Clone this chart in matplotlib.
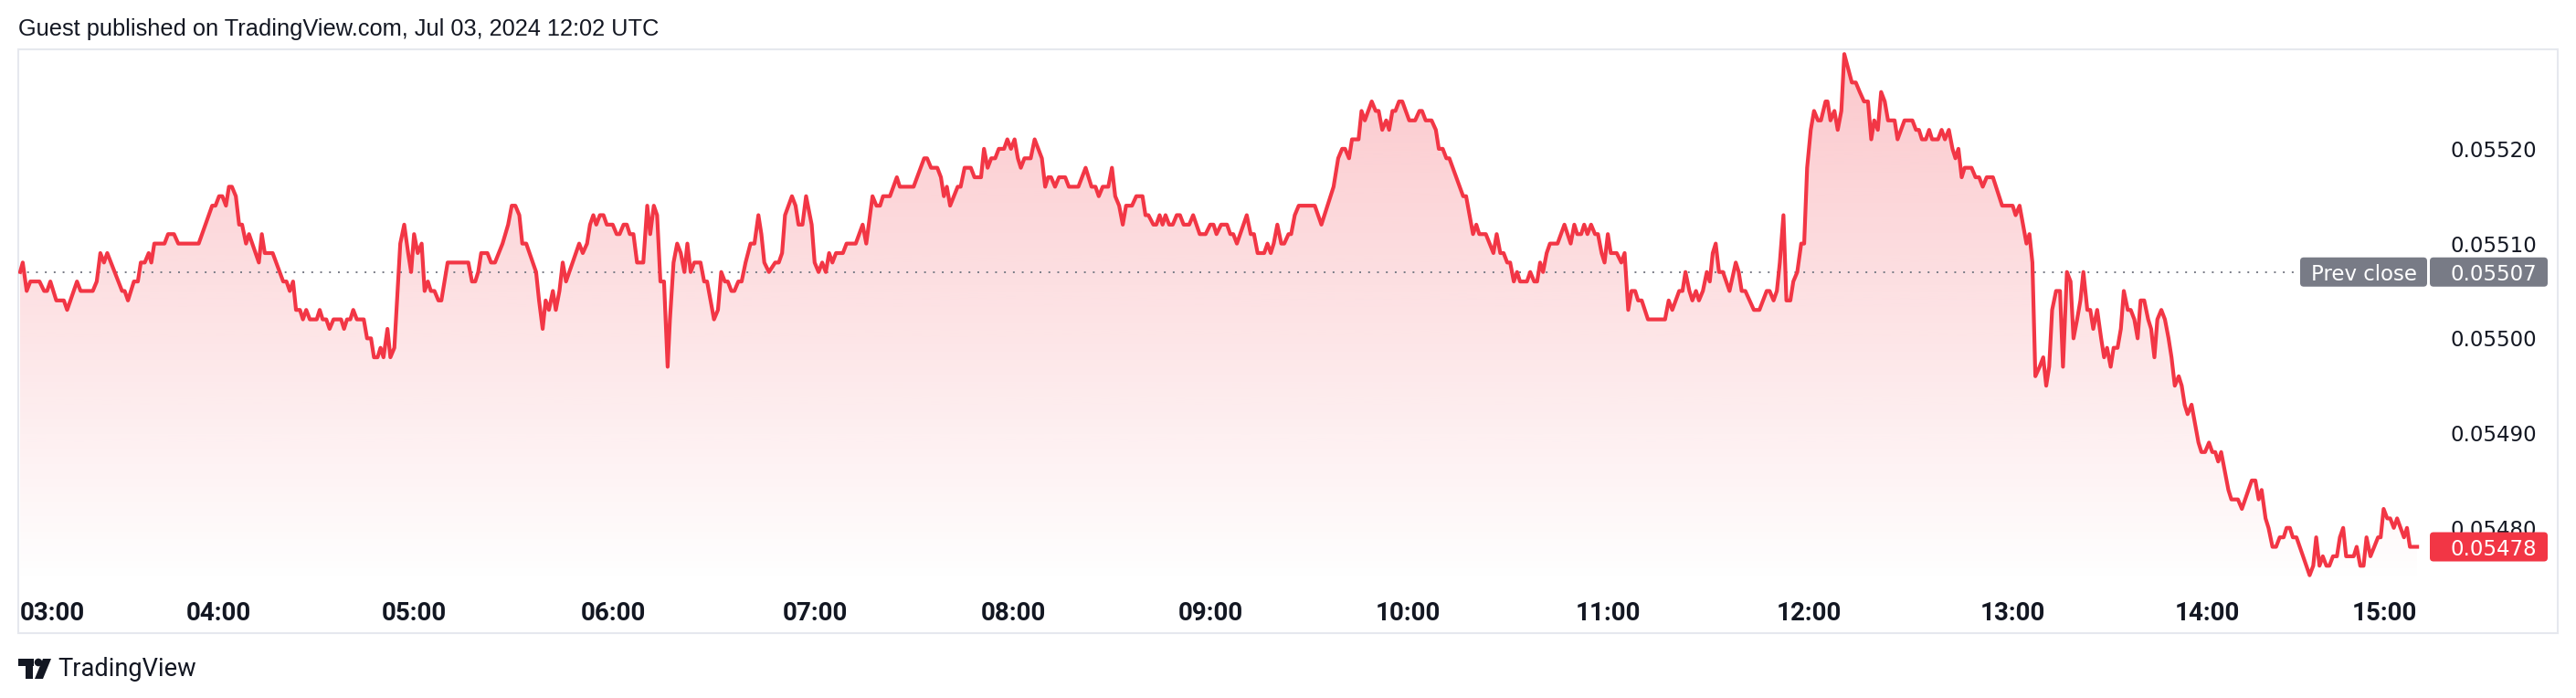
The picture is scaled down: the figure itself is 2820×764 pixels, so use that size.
import numpy as np
import matplotlib
matplotlib.use('Agg')
import matplotlib.pyplot as plt
from matplotlib.patches import FancyBboxPatch, Rectangle, PathPatch, Polygon, Circle
from matplotlib.transforms import IdentityTransform, blended_transform_factory

# --- data (bar index since 03:00, price) ---
bar_pos = [
    0.0, 0.8, 2.0, 3.1, 5.9, 7.3, 8.2, 9.2, 11.0, 13.3,
    14.3, 17.3, 18.4, 22.1, 23.3, 24.4, 25.5, 26.5, 31.0, 31.8,
    32.8, 34.6, 35.8, 36.7, 37.9, 39.1, 39.9, 40.8, 43.9, 45.0,
    46.8, 48.1, 54.3, 58.4, 59.4, 60.5, 61.5, 62.6, 63.5, 64.4,
    65.6, 66.6, 67.5, 68.7, 69.6, 72.6, 73.5, 74.4, 76.8, 80.0,
    81.0, 82.0, 83.0, 83.9, 85.1, 86.0, 87.0, 88.1, 90.2, 91.1,
    92.0, 93.1, 94.1, 95.3, 97.6, 98.5, 99.4, 100.4, 101.3, 102.4,
    104.5, 105.5, 106.7, 107.6, 108.7, 109.6, 110.5, 111.7, 112.6, 113.8,
    115.6, 116.8, 118.0, 118.9, 119.8, 120.9, 122.1, 123.0, 124.0, 124.9,
    126.0, 127.2, 128.1, 130.0, 136.3, 137.4, 138.4, 139.3, 140.2, 142.1,
    143.2, 144.4, 146.7, 148.4, 149.5, 150.6, 151.8, 152.7, 153.9, 156.9,
    157.8, 158.9, 159.8, 160.8, 162.0, 162.9, 164.0, 165.0, 166.0, 170.0,
    171.1, 172.4, 173.3, 174.3, 175.2, 176.3, 177.4, 178.4, 180.2, 181.4,
    182.3, 183.5, 184.5, 185.4, 186.5, 187.6, 189.5, 190.7, 191.6, 192.7,
    193.7, 194.7, 195.8, 196.9, 197.6, 198.7, 199.8, 200.9, 202.0, 202.9,
    203.9, 205.0, 206.9, 208.0, 208.9, 211.0, 212.2, 213.2, 214.3, 215.2,
    216.3, 217.2, 218.4, 219.4, 220.6, 222.1, 223.3, 224.5, 225.4, 226.3,
    227.7, 229.6, 230.7, 231.7, 232.6, 234.7, 235.8, 236.7, 237.9, 239.0,
    240.7, 241.6, 242.8, 243.9, 245.0, 246.0, 247.0, 248.1, 250.2, 251.3,
    254.1, 256.2, 257.3, 259.2, 260.4, 261.5, 262.4, 264.5, 266.6, 267.5,
    271.7, 274.9, 275.8, 277.0, 278.9, 280.0, 280.9, 281.8, 282.8, 285.1,
    286.0, 287.2, 289.1, 290.2, 292.2, 293.1, 294.2, 295.3, 296.5, 297.6,
    299.2, 300.2, 301.3, 302.4, 303.4, 304.3, 305.4, 307.3, 308.5, 310.7,
    311.7, 312.6, 313.5, 314.7, 315.9, 317.8, 318.9, 321.8, 324.0, 325.8,
    327.0, 328.0, 329.2, 330.9, 332.0, 333.0, 334.2, 335.3, 336.3, 338.1,
    339.4, 341.3, 342.2, 343.1, 344.6, 345.5, 346.5, 347.4, 348.3, 349.4,
    350.5, 351.7, 352.7, 353.8, 355.5, 356.7, 358.7, 360.5, 361.9, 362.9,
    363.8, 365.2, 367.0, 368.0, 368.9, 370.0, 373.0, 374.2, 375.2, 376.3,
    378.3, 379.3, 380.3, 381.2, 382.3, 383.5, 384.4, 385.7, 386.5, 387.6,
    388.8, 393.7, 395.7, 399.4, 400.8, 402.0, 402.9, 404.1, 405.0, 407.0,
    407.9, 408.9, 411.0, 412.2, 413.1, 414.2, 415.4, 416.3, 417.3, 418.2,
    419.3, 420.3, 422.4, 424.2, 425.5, 426.3, 427.4, 429.2, 430.5, 431.4,
    432.6, 433.7, 434.6, 438.8, 439.7, 441.8, 442.8, 443.7, 445.7, 448.0,
    449.0, 450.1, 451.1, 452.2, 453.1, 454.2, 455.2, 456.1, 458.2, 459.2,
    460.4, 461.3, 462.2, 463.1, 464.2, 465.2, 467.5, 469.6, 471.5, 472.6,
    473.5, 474.7, 475.6, 476.6, 477.7, 478.9, 479.8, 480.9, 481.8, 482.8,
    483.7, 485.5, 486.9, 487.9, 489.0, 490.0, 491.1, 492.0, 493.1, 495.0,
    500.2, 501.3, 502.4, 504.5, 505.5, 506.4, 507.6, 508.5, 509.6, 510.5,
    511.7, 512.9, 513.8, 514.7, 515.6, 516.6, 517.8, 519.8, 521.7, 522.6,
    523.5, 524.6, 527.2, 528.9, 531.1, 532.0, 533.2, 534.2, 535.1, 536.2,
    537.1, 538.3, 539.2, 540.4, 541.6, 542.5, 543.4, 544.5, 545.5, 546.7,
    547.6, 549.0, 549.6, 550.5, 551.7, 552.7, 553.8, 554.7, 557.0, 558.2,
    559.4, 560.7, 561.9, 562.9, 563.8, 564.9, 565.9, 567.0, 568.0, 570.0,
    570.9, 573.0, 575.4, 576.5, 577.4, 578.3, 579.5, 580.5, 581.4, 583.2,
    584.3, 585.3, 586.5, 587.6, 588.5, 589.4, 590.4, 591.3, 593.4, 594.6,
    595.7, 596.8, 598.0, 599.9, 602.7, 605.9, 606.8, 608.0, 610.1, 611.0,
    611.9, 612.8, 614.1, 615.2, 616.1, 617.0, 617.9, 619.1, 620.3, 621.2,
    622.4, 623.5, 624.4, 625.5, 626.5, 627.4, 628.6, 629.5, 630.4, 631.6,
    632.8, 633.7, 634.6, 635.7, 636.6, 637.8, 638.8, 639.7, 640.9, 641.8,
    642.9, 643.9, 644.8, 645.9, 647.1, 648.0, 649.0, 649.9, 651.1, 652.2,
    653.3, 654.2, 655.2, 656.4, 657.3, 658.2, 659.1, 660.3, 662.4, 663.3,
    664.4, 665.6, 666.6, 667.5, 668.4, 669.3, 671.5, 672.4, 674.4, 675.6,
    678.6, 679.7, 680.7, 681.6, 682.8, 683.7, 684.9, 686.0, 687.1, 688.3,
    689.2, 690.2, 691.1, 692.2, 696.2, 697.3, 698.2, 699.2, 700.2, 701.3,
    702.2, 703.3, 704.5, 705.4, 706.4, 707.3, 709.6, 710.5, 711.6, 712.6,
    713.5, 714.7, 717.0, 717.8, 718.7, 719.8, 720.7, 721.8, 722.8, 724.9,
    725.8, 726.7, 728.9,
]

prices = [
    0.05507, 0.05508, 0.05505, 0.05506, 0.05506, 0.05505, 0.05505, 0.05506, 0.05504, 0.05504,
    0.05503, 0.05506, 0.05505, 0.05505, 0.05506, 0.05509, 0.05508, 0.05509, 0.05505, 0.05505,
    0.05504, 0.05506, 0.05506, 0.05508, 0.05508, 0.05509, 0.05508, 0.05510, 0.05510, 0.05511,
    0.05511, 0.05510, 0.05510, 0.05514, 0.05514, 0.05515, 0.05515, 0.05514, 0.05516, 0.05516,
    0.05515, 0.05512, 0.05512, 0.05510, 0.05511, 0.05508, 0.05511, 0.05509, 0.05509, 0.05506,
    0.05506, 0.05505, 0.05506, 0.05503, 0.05503, 0.05502, 0.05503, 0.05502, 0.05502, 0.05503,
    0.05502, 0.05502, 0.05501, 0.05502, 0.05502, 0.05501, 0.05502, 0.05502, 0.05503, 0.05502,
    0.05502, 0.05500, 0.05500, 0.05498, 0.05498, 0.05499, 0.05498, 0.05501, 0.05498, 0.05499,
    0.05510, 0.05512, 0.05509, 0.05507, 0.05511, 0.05509, 0.05510, 0.05505, 0.05506, 0.05505,
    0.05505, 0.05504, 0.05504, 0.05508, 0.05508, 0.05506, 0.05506, 0.05507, 0.05509, 0.05509,
    0.05508, 0.05508, 0.05510, 0.05512, 0.05514, 0.05514, 0.05513, 0.05510, 0.05510, 0.05507,
    0.05504, 0.05501, 0.05504, 0.05503, 0.05505, 0.05503, 0.05505, 0.05508, 0.05506, 0.05510,
    0.05509, 0.05510, 0.05512, 0.05513, 0.05512, 0.05513, 0.05513, 0.05512, 0.05512, 0.05511,
    0.05511, 0.05512, 0.05512, 0.05511, 0.05511, 0.05508, 0.05508, 0.05514, 0.05511, 0.05514,
    0.05513, 0.05506, 0.05506, 0.05497, 0.05502, 0.05508, 0.05510, 0.05509, 0.05507, 0.05510,
    0.05507, 0.05508, 0.05508, 0.05506, 0.05506, 0.05502, 0.05503, 0.05507, 0.05506, 0.05506,
    0.05505, 0.05505, 0.05506, 0.05506, 0.05508, 0.05510, 0.05510, 0.05513, 0.05511, 0.05508,
    0.05507, 0.05508, 0.05508, 0.05509, 0.05513, 0.05515, 0.05514, 0.05512, 0.05512, 0.05515,
    0.05512, 0.05508, 0.05507, 0.05508, 0.05507, 0.05509, 0.05508, 0.05509, 0.05509, 0.05510,
    0.05510, 0.05512, 0.05510, 0.05515, 0.05514, 0.05514, 0.05515, 0.05515, 0.05517, 0.05516,
    0.05516, 0.05519, 0.05519, 0.05518, 0.05518, 0.05517, 0.05515, 0.05516, 0.05514, 0.05516,
    0.05516, 0.05518, 0.05518, 0.05517, 0.05517, 0.05520, 0.05518, 0.05519, 0.05519, 0.05520,
    0.05520, 0.05521, 0.05520, 0.05521, 0.05519, 0.05518, 0.05519, 0.05519, 0.05521, 0.05519,
    0.05516, 0.05517, 0.05517, 0.05516, 0.05517, 0.05517, 0.05516, 0.05516, 0.05518, 0.05516,
    0.05516, 0.05515, 0.05516, 0.05516, 0.05518, 0.05515, 0.05514, 0.05512, 0.05514, 0.05514,
    0.05515, 0.05515, 0.05513, 0.05513, 0.05512, 0.05512, 0.05513, 0.05512, 0.05513, 0.05512,
    0.05512, 0.05513, 0.05513, 0.05512, 0.05512, 0.05513, 0.05511, 0.05511, 0.05512, 0.05512,
    0.05511, 0.05512, 0.05512, 0.05511, 0.05511, 0.05510, 0.05513, 0.05511, 0.05511, 0.05509,
    0.05509, 0.05510, 0.05509, 0.05510, 0.05512, 0.05510, 0.05510, 0.05511, 0.05511, 0.05513,
    0.05514, 0.05514, 0.05512, 0.05516, 0.05519, 0.05520, 0.05520, 0.05519, 0.05521, 0.05521,
    0.05524, 0.05523, 0.05525, 0.05524, 0.05524, 0.05522, 0.05523, 0.05522, 0.05524, 0.05524,
    0.05525, 0.05525, 0.05523, 0.05523, 0.05524, 0.05524, 0.05523, 0.05523, 0.05522, 0.05520,
    0.05520, 0.05519, 0.05519, 0.05515, 0.05515, 0.05511, 0.05512, 0.05511, 0.05511, 0.05509,
    0.05511, 0.05509, 0.05509, 0.05508, 0.05508, 0.05506, 0.05507, 0.05506, 0.05506, 0.05507,
    0.05506, 0.05506, 0.05508, 0.05507, 0.05509, 0.05510, 0.05510, 0.05512, 0.05510, 0.05512,
    0.05511, 0.05511, 0.05512, 0.05511, 0.05512, 0.05511, 0.05511, 0.05509, 0.05508, 0.05511,
    0.05509, 0.05509, 0.05508, 0.05509, 0.05503, 0.05505, 0.05505, 0.05504, 0.05504, 0.05502,
    0.05502, 0.05504, 0.05503, 0.05505, 0.05505, 0.05507, 0.05505, 0.05504, 0.05505, 0.05504,
    0.05505, 0.05507, 0.05506, 0.05509, 0.05510, 0.05507, 0.05507, 0.05505, 0.05508, 0.05507,
    0.05505, 0.05505, 0.05503, 0.05503, 0.05505, 0.05505, 0.05504, 0.05505, 0.05508, 0.05513,
    0.05504, 0.05504, 0.05506, 0.05507, 0.05510, 0.05510, 0.05518, 0.05522, 0.05524, 0.05523,
    0.05523, 0.05525, 0.05525, 0.05523, 0.05524, 0.05522, 0.05524, 0.05530, 0.05527, 0.05527,
    0.05526, 0.05525, 0.05525, 0.05521, 0.05523, 0.05522, 0.05526, 0.05525, 0.05523, 0.05523,
    0.05521, 0.05523, 0.05523, 0.05522, 0.05522, 0.05521, 0.05521, 0.05522, 0.05521, 0.05521,
    0.05522, 0.05521, 0.05522, 0.05520, 0.05519, 0.05520, 0.05517, 0.05518, 0.05518, 0.05517,
    0.05517, 0.05516, 0.05517, 0.05517, 0.05514, 0.05514, 0.05513, 0.05514, 0.05510, 0.05511,
    0.05508, 0.05496, 0.05497, 0.05498, 0.05495, 0.05497, 0.05503, 0.05505, 0.05505, 0.05497,
    0.05507, 0.05506, 0.05500, 0.05502, 0.05504, 0.05507, 0.05503, 0.05503, 0.05501, 0.05503,
    0.05500, 0.05498, 0.05499, 0.05497, 0.05499, 0.05499, 0.05501, 0.05505, 0.05503, 0.05503,
    0.05502, 0.05500, 0.05504, 0.05504, 0.05502, 0.05501, 0.05498, 0.05502, 0.05503, 0.05502,
    0.05500, 0.05498, 0.05495, 0.05496, 0.05495, 0.05493, 0.05492, 0.05493, 0.05489, 0.05488,
    0.05488, 0.05489, 0.05488, 0.05488, 0.05487, 0.05488, 0.05484, 0.05483, 0.05483, 0.05482,
    0.05485, 0.05485, 0.05483, 0.05484, 0.05481, 0.05480, 0.05478, 0.05478, 0.05479, 0.05479,
    0.05480, 0.05480, 0.05479, 0.05479, 0.05475, 0.05476, 0.05479, 0.05476, 0.05477, 0.05476,
    0.05476, 0.05477, 0.05477, 0.05479, 0.05480, 0.05477, 0.05477, 0.05478, 0.05476, 0.05476,
    0.05479, 0.05477, 0.05479, 0.05479, 0.05482, 0.05481, 0.05481, 0.05480, 0.05481, 0.05479,
    0.05480, 0.05478, 0.05478,
]

hour_labels = ['03:00', '04:00', '05:00', '06:00', '07:00', '08:00', '09:00',
               '10:00', '11:00', '12:00', '13:00', '14:00', '15:00']
hour_bars = [0, 60.3, 119.7, 180.3, 241.7, 302, 362, 422, 483, 544, 606, 665, 719]
price_ticks = [0.05480, 0.05490, 0.05500, 0.05510, 0.05520]
prev_close = 0.05507
last_price = prices[-1]

header = 'Guest published on TradingView.com, Jul 03, 2024 12:02 UTC'

RED = '#F23645'
GREY = '#787B86'
TXT = '#131722'

W, H = 2820, 764
fig = plt.figure(figsize=(W / 100, H / 100), dpi=100)
fig.patch.set_facecolor('white')

ax = fig.add_axes([20 / W, 1 - 640 / H, (2658 - 20) / W, (640 - 54) / H])
ax.set_facecolor('none')
for s in ax.spines.values():
    s.set_visible(False)

x0, x1 = -0.56, 732.2
y0, y1 = 0.054740, 0.055305

# gradient fill under the line
n = 256
grad = np.zeros((n, 1, 4))
grad[..., :3] = np.array([242, 54, 69]) / 255
grad[:, 0, 3] = np.linspace(0.28, 0.0, n)
im = ax.imshow(grad, extent=[x0, x1, y0, y1], origin='upper', aspect='auto',
               interpolation='bilinear', zorder=1)
fill = ax.fill_between(bar_pos, prices, y0, facecolor='none', edgecolor='none')
clip = PathPatch(fill.get_paths()[0], transform=ax.transData,
                 facecolor='none', edgecolor='none')
ax.add_patch(clip)
im.set_clip_path(clip)

ax.plot(bar_pos, prices, color=RED, lw=3.0, zorder=3, solid_joinstyle='round')
ax.axhline(prev_close, xmin=0, xmax=(2515 - 20) / (2658 - 20), color=GREY,
           lw=1.4, linestyle=(0, (1, 4)), zorder=2)

ax.set_xlim(x0, x1)
ax.set_ylim(y0, y1)

# time axis
ax.set_xticks(hour_bars)
ax.set_xticklabels(hour_labels)
ax.tick_params(axis='x', length=0, pad=13, labelsize=20, labelcolor=TXT)
for lab in ax.get_xticklabels():
    lab.set_fontfamily('Roboto')
    lab.set_fontweight('bold')
ax.get_xticklabels()[0].set_ha('left')

# price axis
ax.yaxis.tick_right()
ax.set_yticks(price_ticks)
ax.set_yticklabels([f'{v:.5f}' for v in price_ticks])
ax.tick_params(axis='y', length=0, pad=(2777 - 2658) * 0.72, labelsize=16.5,
               labelcolor=TXT)
for lab in ax.get_yticklabels():
    lab.set_ha('right')
    lab.set_fontfamily('DejaVu Sans')

# outer frame
fig.add_artist(Rectangle((20, H - 693), 2780, 639, transform=IdentityTransform(),
                         facecolor='none', edgecolor='#E6E8EE', lw=1.5, zorder=0))

# price badges
tr = blended_transform_factory(fig.transFigure, ax.transData)


def badge(xl, xr, value, color, zorder=5):
    yd = ax.transData.transform((0, value))[1]
    fig.add_artist(FancyBboxPatch((xl, yd - 16), xr - xl, 32,
                                  boxstyle='round,pad=0,rounding_size=4',
                                  transform=IdentityTransform(),
                                  facecolor=color, edgecolor='none', zorder=zorder))


badge(2518, 2657, prev_close, GREY)
badge(2660, 2789, prev_close, GREY)
badge(2660, 2789, last_price, RED)
badge_txt = dict(transform=tr, va='center_baseline', fontsize=16.5, color='white',
                 family='DejaVu Sans', zorder=7)
fig.text(2587.5 / W, prev_close, 'Prev close', ha='center', **badge_txt)
fig.text(2777 / W, prev_close, f'{prev_close:.5f}', ha='right', **badge_txt)
fig.text(2777 / W, last_price, f'{last_price:.5f}', ha='right', **badge_txt)

# header
fig.text(20 / W, 1 - 32 / H, header, ha='left', va='center', fontsize=18.3,
         family='Liberation Sans', color=TXT)

# TradingView logo + wordmark
def to_disp(pts):
    return [(x, H - y) for x, y in pts]


logo_kw = dict(transform=IdentityTransform(), facecolor=TXT, edgecolor='none')
fig.add_artist(Polygon(to_disp([(20, 721), (37, 721), (37, 729), (20, 729)]), **logo_kw))
fig.add_artist(Polygon(to_disp([(28, 721), (36, 721), (36, 743), (28, 743)]), **logo_kw))
fig.add_artist(Circle((42, H - 725), 4.3, **logo_kw))
fig.add_artist(Polygon(to_disp([(38, 743), (47, 743), (56, 721), (47, 721)]), **logo_kw))
fig.text(63 / W, 1 - 732 / H, 'TradingView', ha='left', va='center', fontsize=19.6,
         family='Roboto', color=TXT)

fig.savefig('out.png', dpi=100, facecolor='white')
